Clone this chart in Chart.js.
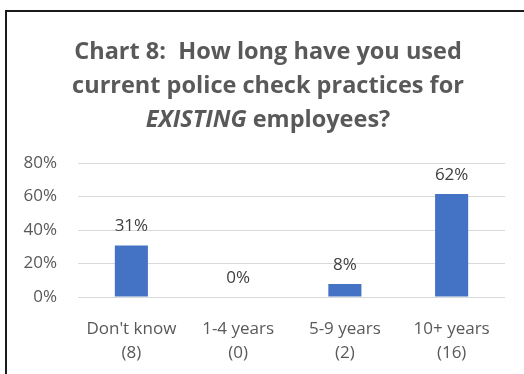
<!DOCTYPE html>
<html>
<head>
<meta charset="utf-8">
<script src="https://cdn.jsdelivr.net/npm/chart.js@4"></script>
<style>
  html, body { margin: 0; padding: 0; background: #fff; overflow: hidden; }
  #wrap { position: relative; width: 524px; height: 374px; }
  #frame {
    position: absolute; left: 5px; top: 10px;
    width: 540px; height: 400px;
    border: 2px solid #1a1a1a; box-sizing: border-box;
  }
  #chart { position: absolute; left: 0; top: 0; }
</style>
</head>
<body>
<div id="wrap">
  <div id="frame"></div>
  <canvas id="chart" width="524" height="374"></canvas>
</div>
<script>
// --- Survey data: share of respondents per category ---
const categories = ["Don't know", '1-4 years', '5-9 years', '10+ years'];
const counts = [8, 0, 2, 16];
const percents = [30.8, 0, 7.7, 61.5];
const yTicks = [0, 20, 40, 60, 80];

const FONT = "'Open Sans', 'Lato', sans-serif";
const textGrey = '#595959';

// Title with an italic word in the last line
const titleLines = [
  [{ t: 'Chart 8:  How long have you used', i: false }],
  [{ t: 'current police check practices for', i: false }],
  [{ t: 'EXISTING', i: true }, { t: ' employees?', i: false }]
];

const titlePlugin = {
  id: 'mixedTitle',
  afterDraw(chart) {
    const ctx = chart.ctx;
    const cx = 268;
    const baselines = [59, 93, 127];
    ctx.save();
    ctx.fillStyle = textGrey;
    ctx.textBaseline = 'alphabetic';
    ctx.textAlign = 'left';
    titleLines.forEach((parts, li) => {
      let total = 0;
      parts.forEach(p => {
        ctx.font = `${p.i ? 'italic ' : ''}bold 23.5px ${FONT}`;
        p.w = ctx.measureText(p.t).width;
        total += p.w;
      });
      let x = cx - total / 2;
      parts.forEach(p => {
        ctx.font = `${p.i ? 'italic ' : ''}bold 23.5px ${FONT}`;
        ctx.fillText(p.t, x, baselines[li]);
        x += p.w;
      });
    });
    ctx.restore();
  }
};

// Percent labels above each bar
const valueLabels = {
  id: 'valueLabels',
  afterDatasetsDraw(chart) {
    const ctx = chart.ctx;
    const meta = chart.getDatasetMeta(0);
    ctx.save();
    ctx.font = `17px ${FONT}`;
    ctx.fillStyle = '#404040';
    ctx.textAlign = 'center';
    ctx.textBaseline = 'middle';
    meta.data.forEach((bar, i) => {
      ctx.fillText(Math.round(percents[i]) + '%', bar.x, bar.y - 19);
    });
    ctx.restore();
  }
};

new Chart(document.getElementById('chart'), {
  type: 'bar',
  data: {
    labels: categories.map((c, i) => [c, `(${counts[i]})`]),
    datasets: [{
      data: percents,
      backgroundColor: '#4472c4',
      barPercentage: 0.31,
      categoryPercentage: 1
    }]
  },
  options: {
    responsive: false,
    animation: false,
    devicePixelRatio: 1,
    layout: { padding: { top: 163, right: 19, left: 0, bottom: 0 } },
    plugins: { legend: { display: false }, tooltip: { enabled: false } },
    scales: {
      x: {
        grid: { display: false },
        border: { display: false },
        ticks: {
          color: textGrey,
          font: { family: FONT, size: 17, lineHeight: 1.36 },
          padding: 13,
          maxRotation: 0
        },
        afterFit(s) { s.height = 77; }
      },
      y: {
        min: 0,
        max: 80,
        afterBuildTicks(s) { s.ticks = yTicks.map(v => ({ value: v })); },
        grid: { color: '#d9d9d9', lineWidth: 1, drawTicks: false },
        border: { display: false },
        ticks: {
          color: textGrey,
          font: { family: FONT, size: 17 },
          padding: 21,
          callback: v => v + '%'
        },
        afterFit(s) { s.width = 78; }
      }
    }
  },
  plugins: [titlePlugin, valueLabels]
});
</script>
</body>
</html>
